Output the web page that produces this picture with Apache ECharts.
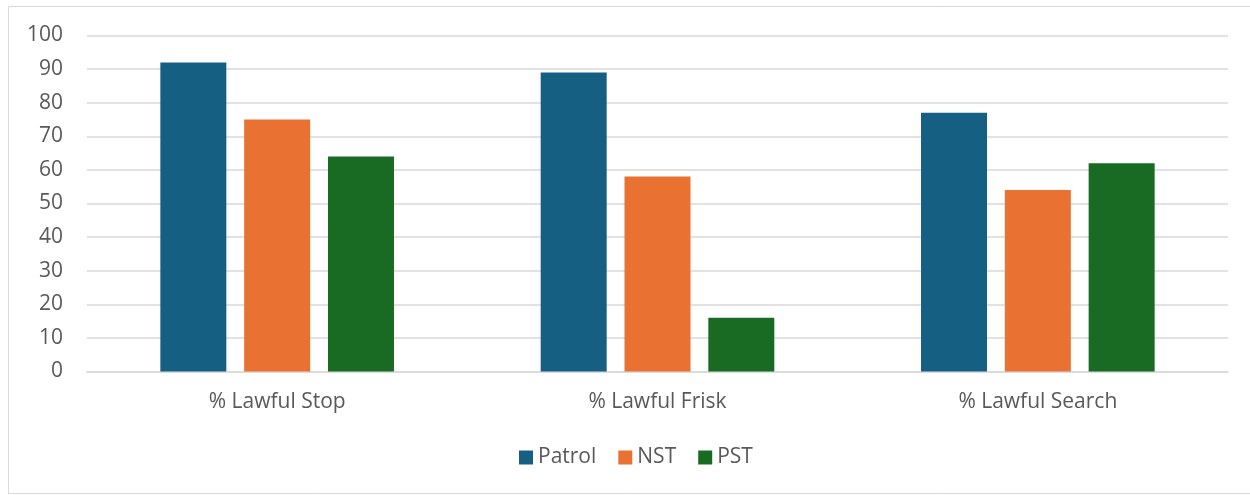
<!DOCTYPE html>
<html><head><meta charset="utf-8">
<script src="https://cdn.jsdelivr.net/npm/echarts@6/dist/echarts.min.js"></script>
<style>html,body{margin:0;padding:0;background:#fff}#c{width:1250px;height:495px}</style>
</head><body><div id="c"></div>
<script>
const categories = ['% Lawful Stop', '% Lawful Frisk', '% Lawful Search'];
const patrol = [92, 89, 77];
const nst = [75, 58, 54];
const pst = [64, 16, 62];
const yTicks = {min: 0, max: 100, interval: 10};

const chart = echarts.init(document.getElementById('c'), null, {renderer: 'canvas'});
const txt = '#595959';
const font = 'Open Sans, Liberation Sans, sans-serif';
chart.setOption({
  animation: false,
  backgroundColor: '#fff',
  graphic: [{type: 'rect', shape: {x: 8.5, y: 6.5, width: 1260, height: 487}, style: {fill: 'none', stroke: '#d9d9d9', lineWidth: 1}, silent: true}],
  grid: {left: 87, right: 22, top: 35.5, bottom: 123.5},
  legend: {
    data: ['Patrol', 'NST', 'PST'], top: 442, left: 514,
    itemWidth: 14, itemHeight: 14, itemGap: 22, icon: 'rect',
    textStyle: {color: txt, fontSize: 21, fontFamily: font}
  },
  xAxis: {
    type: 'category', data: categories,
    axisLine: {lineStyle: {color: '#d9d9d9', width: 1.5}},
    axisTick: {show: false},
    axisLabel: {color: txt, fontSize: 21, fontFamily: font, margin: 20}
  },
  yAxis: {
    type: 'value', min: yTicks.min, max: yTicks.max, interval: yTicks.interval,
    axisLine: {show: false}, axisTick: {show: false},
    splitLine: {lineStyle: {color: '#d9d9d9', width: 1.5}},
    axisLabel: {color: txt, fontSize: 21, fontFamily: font, margin: 24}
  },
  series: [
    {name: 'Patrol', type: 'bar', data: patrol, barWidth: 66, barGap: '27%', itemStyle: {color: '#156082'}},
    {name: 'NST', type: 'bar', data: nst, barWidth: 66, barGap: '27%', itemStyle: {color: '#E97132'}},
    {name: 'PST', type: 'bar', data: pst, barWidth: 66, barGap: '27%', itemStyle: {color: '#196B24'}}
  ]
});
</script></body></html>
